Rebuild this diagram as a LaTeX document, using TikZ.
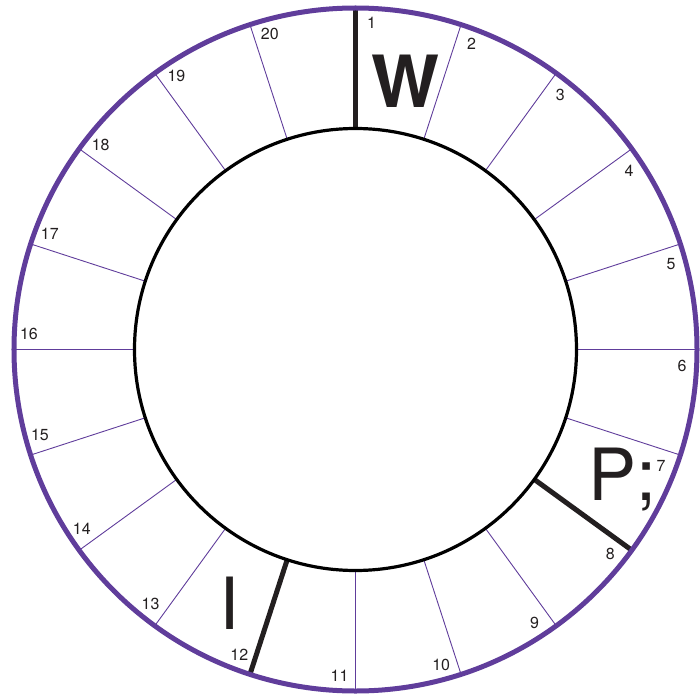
\documentclass[tikz,border=0pt]{standalone}
\usepackage{fontspec}
\setmainfont{TeX Gyre Heros}
\usetikzlibrary{calc}
\definecolor{grape}{RGB}{96,61,155}
\definecolor{ink}{RGB}{35,31,32}
\tikzset{
  rim/.style={draw=grape,line width=5pt},
  hub/.style={draw=black,line width=3.2pt},
  spoke/.style={draw=grape,line width=0.9pt},
  heavy spoke/.style={draw=ink,line width=5pt},
  num/.style={font=\fontsize{16}{16}\selectfont,text=ink,inner sep=0pt},
  glyph/.style={font=\fontsize{72}{72}\selectfont,text=ink,inner sep=0pt,anchor=base},
}
\begin{document}
\begin{tikzpicture}
  \useasboundingbox (-355.5pt,-346.5pt) rectangle (344.5pt,349.5pt);
  % thin spokes
  \foreach \i in {2,3,4,5,6,7,9,10,11,13,14,15,16,17,18,19,20}
    \draw[spoke] ({90-(\i-1)*18}:221pt) -- ({90-(\i-1)*18}:341.5pt);
  % marked spokes
  \foreach \i in {1,8,12}
    \draw[heavy spoke] ({90-(\i-1)*18}:221pt) -- ({90-(\i-1)*18}:341.5pt);
  \draw[hub] (0,0) circle (221pt);
  \draw[rim] (0,0) circle (341.5pt);
  % sector numbers
  \foreach \i in {1,...,20}
    \node[num] (n\i) at ({90-(\i-1)*18-2.8}:327pt) {\i};
  % letters
  \node[glyph,font=\fontsize{72}{72}\selectfont\bfseries] (w) at (50pt,241.5pt) {W};
  \node[glyph] (p) at (267pt,-150.5pt) {P;};
  \node[glyph] (i) at (-126pt,-279.5pt) {I};
\end{tikzpicture}
\end{document}
